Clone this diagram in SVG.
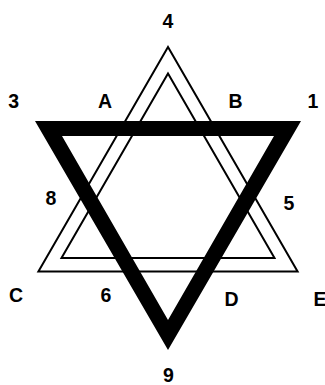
<svg xmlns="http://www.w3.org/2000/svg" width="325" height="385" viewBox="0 0 325 385">
<style>
.lbl{font-family:"Liberation Sans",Arial,sans-serif;font-weight:bold;font-size:19.5px;fill:#000;text-anchor:middle}
.outline{fill:none;stroke:#000;stroke-width:2;stroke-linejoin:miter;stroke-miterlimit:10}
</style>
<rect width="325" height="385" fill="#fff"/>
<g id="outer-triangle"><path class="outline" d="M168,47 L38.4,271.5 L297.6,271.5 Z"/></g>
<g id="inner-triangle"><path class="outline" d="M168,73.5 L61.5,258 L274.5,258 Z"/></g>
<g id="black-triangle"><path fill="#000" fill-rule="evenodd" d="M35,121 L301,121 L168,350 Z M62,136 L274,136 L168,320 Z"/></g>
<g id="labels">
<text class="lbl" x="168" y="28">4</text>
<text class="lbl" x="13.7" y="108">3</text>
<text class="lbl" x="105" y="108">A</text>
<text class="lbl" x="235.5" y="107.5">B</text>
<text class="lbl" x="313" y="108">1</text>
<text class="lbl" x="51" y="205">8</text>
<text class="lbl" x="289" y="210">5</text>
<text class="lbl" x="16" y="302">C</text>
<text class="lbl" x="106" y="302">6</text>
<text class="lbl" x="231.5" y="306">D</text>
<text class="lbl" x="320" y="306">E</text>
<text class="lbl" x="168.5" y="382">9</text>
</g>
</svg>
